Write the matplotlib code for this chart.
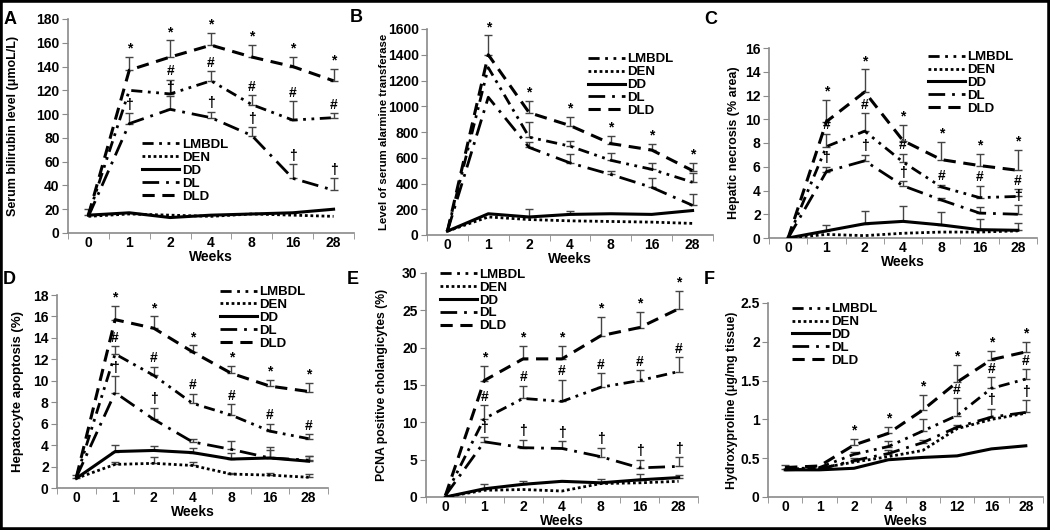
import numpy as np
import matplotlib.pyplot as plt
from matplotlib.patches import Rectangle
from matplotlib.ticker import FuncFormatter

plt.rcParams['font.family'] = ['Liberation Sans', 'DejaVu Sans']

groups = ["LMBDL", "DEN", "DD", "DL", "DLD"]
weeks = ["0", "1", "2", "4", "8", "16", "28"]
weeks_f = ["0", "1", "2", "4", "8", "12", "16", "28"]
sig_symbol = {"DLD": "*", "LMBDL": "#", "DL": "\u2020"}

# A - serum bilirubin
a_vals = {
    "LMBDL": [15, 120, 117, 128, 108, 95, 97],
    "DEN": [14, 16, 15, 14, 16, 15, 14],
    "DD": [15, 17, 13, 15, 16, 17, 20],
    "DL": [14, 92, 104, 97, 82, 46, 36],
    "DLD": [15, 137, 148, 158, 148, 140, 128],
}
a_err = {
    "LMBDL": [0, 0, 12, 8, 8, 16, 4],
    "DL": [0, 9, 11, 5, 7, 12, 10],
    "DLD": [5, 11, 14, 10, 10, 8, 10],
}
a_sig = {"DLD": [1, 2, 3, 4, 5, 6], "LMBDL": [2, 3, 4, 5, 6], "DL": [1, 2, 3, 4, 5, 6]}

# B - serum alanine transferase
b_vals = {
    "LMBDL": [30, 1300, 760, 690, 580, 510, 410],
    "DEN": [30, 140, 120, 110, 105, 100, 90],
    "DD": [30, 165, 140, 160, 165, 160, 190],
    "DL": [30, 1070, 680, 560, 470, 370, 230],
    "DLD": [30, 1400, 950, 850, 710, 660, 500],
}
b_err = {
    "LMBDL": [0, 0, 120, 40, 60, 50, 70],
    "DD": [0, 0, 60, 30, 0, 0, 0],
    "DL": [0, 0, 40, 70, 30, 70, 90],
    "DLD": [0, 150, 90, 70, 60, 50, 60],
}
b_sig = {"DLD": [1, 2, 3, 4, 5, 6]}

# C - hepatic necrosis
c_vals = {
    "LMBDL": [0, 7.7, 9.0, 6.4, 4.3, 3.4, 3.5],
    "DEN": [0, 0.3, 0.2, 0.4, 0.5, 0.5, 0.6],
    "DD": [0, 0.6, 1.2, 1.4, 1.1, 0.7, 0.65],
    "DL": [0, 5.6, 6.5, 4.4, 3.2, 2.1, 2.0],
    "DLD": [0, 9.8, 12.3, 8.2, 6.6, 6.1, 5.7],
}
c_err = {
    "LMBDL": [0, 1.1, 1.5, 0.7, 0.2, 1.0, 0.6],
    "DD": [0, 0.5, 1.1, 1.3, 1.1, 0.9, 0.65],
    "DL": [0, 0.4, 0.5, 0.4, 0.2, 0.5, 0.8],
    "DLD": [0, 1.8, 1.9, 1.3, 1.5, 1.0, 1.7],
}
c_sig = {"DLD": [1, 2, 3, 4, 5, 6], "LMBDL": [1, 2, 3, 4, 5, 6], "DL": [1, 2, 3, 6]}

# D - hepatocyte apoptosis
d_vals = {
    "LMBDL": [1.0, 12.5, 10.5, 7.9, 6.8, 5.3, 4.6],
    "DEN": [0.9, 2.2, 2.3, 2.1, 1.3, 1.2, 1.0],
    "DD": [0.9, 3.4, 3.5, 3.3, 2.7, 2.8, 2.5],
    "DL": [1.0, 8.9, 6.4, 4.3, 3.6, 2.8, 2.6],
    "DLD": [1.0, 15.7, 14.9, 12.7, 10.7, 9.5, 9.0],
}
d_err = {
    "LMBDL": [0, 0.7, 0.8, 0.9, 1.0, 0.7, 0.4],
    "DEN": [0, 0.2, 0.6, 0.3, 0.1, 0.2, 0.3],
    "DD": [0.3, 0.6, 0.4, 0.4, 0.6, 0.7, 0.5],
    "DL": [0, 1.5, 1.1, 0.3, 0.8, 1.0, 0.4],
    "DLD": [0, 1.3, 1.1, 0.6, 0.7, 0.6, 0.8],
}
d_sig = {"DLD": [1, 2, 3, 4, 5, 6], "LMBDL": [1, 2, 3, 4, 5, 6], "DL": [1, 2]}

# E - PCNA positive cholangiocytes
e_vals = {
    "LMBDL": [0.2, 10.5, 13.2, 12.8, 14.7, 15.6, 16.8],
    "DEN": [0, 0.9, 1.0, 0.8, 1.8, 1.9, 2.1],
    "DD": [0, 1.1, 1.7, 2.1, 1.9, 2.3, 2.6],
    "DL": [0.2, 7.4, 6.6, 6.5, 5.4, 3.9, 4.1],
    "DLD": [0.2, 15.6, 18.5, 18.5, 21.6, 22.7, 25.2],
}
e_err = {
    "LMBDL": [0, 1.8, 1.7, 2.9, 1.9, 1.4, 1.9],
    "DD": [0, 0.7, 0.5, 0.1, 0.5, 0.8, 0.3],
    "DL": [0, 0.7, 1.1, 1.0, 1.2, 1.1, 1.2],
    "DLD": [0, 2.0, 1.7, 1.7, 2.5, 2.1, 2.4],
}
e_sig = {"DLD": [1, 2, 3, 4, 5, 6], "LMBDL": [1, 2, 3, 4, 5, 6], "DL": [1, 2, 3, 4, 5, 6]}

# F - hydroxyproline
f_vals = {
    "LMBDL": [0.36, 0.38, 0.55, 0.65, 0.85, 1.05, 1.40, 1.52],
    "DEN": [0.36, 0.37, 0.45, 0.52, 0.60, 0.88, 1.00, 1.08],
    "DD": [0.35, 0.35, 0.37, 0.48, 0.51, 0.53, 0.62, 0.66],
    "DL": [0.35, 0.36, 0.47, 0.56, 0.70, 0.90, 1.03, 1.09],
    "DLD": [0.38, 0.40, 0.67, 0.82, 1.12, 1.48, 1.77, 1.87],
}
f_err = {
    "LMBDL": [0.05, 0, 0.03, 0.07, 0.15, 0.22, 0.14, 0.13],
    "DL": [0, 0, 0.03, 0.04, 0.03, 0.03, 0.11, 0.16],
    "DLD": [0, 0, 0.08, 0.08, 0.19, 0.22, 0.11, 0.13],
}
f_sig = {"DLD": [2, 3, 4, 5, 6, 7], "LMBDL": [5, 6, 7], "DL": [6, 7]}

styles = {
    "LMBDL": ((0, (4, 2, 1, 2, 1, 2)), 2.0),
    "DEN": ((0, (1, 1)), 2.0),
    "DD": ("-", 2.2),
    "DL": ((0, (6, 2.5, 1, 2.5)), 2.0),
    "DLD": ((0, (4, 2.5)), 2.2),
}


def draw(ax, labels, vals, err, sig, top, step, ylabel, ylfs, ylx, leg_xy):
    x = np.arange(len(labels))
    for g, e in err.items():
        idx = [i for i, v in enumerate(e) if v > 0]
        ax.errorbar(x[idx], [vals[g][i] for i in idx],
                    yerr=[[0] * len(idx), [e[i] for i in idx]],
                    fmt='none', ecolor='#444', elinewidth=1, capsize=3,
                    capthick=1, zorder=2)
    for g in groups:
        ax.plot(x, vals[g], color='black', linestyle=styles[g][0],
                lw=styles[g][1], label=g, zorder=3)
    for g, idx in sig.items():
        for i in idx:
            yt = vals[g][i] + err.get(g, [0] * len(x))[i]
            ax.annotate(sig_symbol[g], (x[i], yt), xytext=(0, 1),
                        textcoords='offset points', ha='center', va='bottom',
                        fontsize=10, fontweight='bold')

    ax.set_xlim(-0.5, len(labels) - 0.5)
    ax.set_ylim(0, top)
    ax.set_yticks(np.arange(0, top + step / 2, step))
    ax.yaxis.set_major_formatter(FuncFormatter(lambda v, p: f"{v:g}"))
    ax.set_xticks(x)
    ax.set_xticklabels(labels)
    ax.set_xticks(np.arange(-0.5, len(labels)), minor=True)
    for s in ["top", "right"]:
        ax.spines[s].set_visible(False)
    for s in ["left", "bottom"]:
        ax.spines[s].set_color('#8a8a8a')
        ax.spines[s].set_linewidth(1.2)
    ax.tick_params(axis='x', which='major', length=0, pad=2, labelsize=10)
    ax.tick_params(axis='x', which='minor', length=4, color='#8a8a8a')
    ax.tick_params(axis='y', length=4, color='#8a8a8a', labelsize=10, pad=2)
    for t in ax.get_xticklabels() + ax.get_yticklabels():
        t.set_fontweight('bold')
    ax.set_xlabel("Weeks", fontsize=10, fontweight='bold', labelpad=0)
    ax.set_ylabel(ylabel, fontsize=ylfs, fontweight='bold')
    ax.yaxis.set_label_coords(ylx, 0.5)
    ax.legend(loc='upper left', bbox_to_anchor=leg_xy, frameon=False,
              handlelength=2.8, handletextpad=0.2, labelspacing=0.05,
              borderpad=0, borderaxespad=0,
              prop={'size': 9.5, 'weight': 'bold'})


fig = plt.figure(figsize=(10.5, 5.3), dpi=100)


def box(left, top, right, bottom):
    return fig.add_axes([left / 1050, 1 - bottom / 530,
                         (right - left) / 1050, (bottom - top) / 530])


ax_a = box(68, 19, 354, 233)
ax_b = box(427, 29, 713, 235)
ax_c = box(769, 48, 1037, 238)
ax_d = box(57, 295, 328, 488)
ax_e = box(426, 273, 698, 497)
ax_f = box(768, 303, 1043, 497)

draw(ax_a, weeks, a_vals, a_err, a_sig, 180, 20,
     "Serum bilirubin level (\u03bcmoL/L)", 9, -0.17, (0.26, 0.44))
draw(ax_b, weeks, b_vals, b_err, b_sig, 1600, 200,
     "Level of serum alarmine transferase", 8.2, -0.133, (0.563, 0.883))
draw(ax_c, weeks, c_vals, c_err, c_sig, 16, 2,
     "Hepatic necrosis (% area)", 9, -0.108, (0.593, 0.984))
draw(ax_d, weeks, d_vals, d_err, d_sig, 18, 2,
     "Hepatocyte apoptosis (%)", 9.5, -0.122, (0.60, 1.047))
draw(ax_e, weeks, e_vals, e_err, e_sig, 30, 5,
     "PCNA positive cholangicytes (%)", 8.8, -0.14, (0.05, 1.02))
draw(ax_f, weeks_f, f_vals, f_err, f_sig, 2.5, 0.5,
     "Hydroxyproline (\u03bcg/mg tissue)", 8.8, -0.109, (0.087, 1.0))

for letter, px, py in [("A", 4, 20), ("B", 350, 18), ("C", 704, 20),
                       ("D", 3, 280), ("E", 347, 279), ("F", 704, 280)]:
    fig.text(px / 1050, 1 - py / 530, letter, fontsize=13, fontweight='bold',
             va='center', ha='left')

fig.patches.append(Rectangle((0, 0), 1, 1, transform=fig.transFigure,
                             fill=False, ec='black', lw=4))

fig.savefig("out.png", dpi=100)
